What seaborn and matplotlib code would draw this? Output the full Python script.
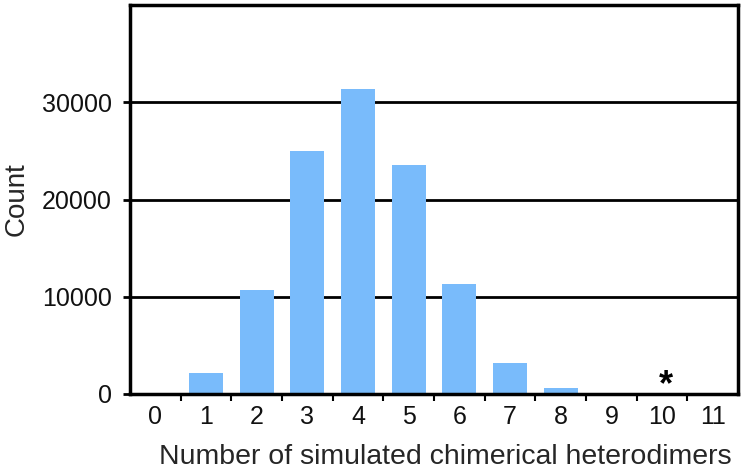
import numpy as np
import pandas as pd
import matplotlib
matplotlib.use("Agg")
import matplotlib.pyplot as plt
import seaborn as sns

categories = [str(i) for i in range(12)]
counts = [0, 2200, 10700, 25000, 31400, 23600, 11300, 3200, 600, 0, 0, 0]
star_category = 10
yticks = [0, 10000, 20000, 30000]

df = pd.DataFrame({"n": categories, "count": counts})

sns.set_theme(style="white")
plt.rcParams['font.family'] = ['Liberation Sans', 'DejaVu Sans']

fig = plt.figure(figsize=(7.47, 4.69), dpi=100)
ax = fig.add_axes([0.174, 0.160, 0.814, 0.829])

for y in yticks[1:]:
    ax.axhline(y, color='black', linewidth=2, zorder=0)

sns.barplot(data=df, x="n", y="count", order=categories, color='#79bbfb',
            saturation=1, width=0.67, linewidth=0, ax=ax, zorder=2)

# asterisk marking the observed value
ax.text(star_category + 0.08, 900, "*", ha='center', va='center', fontsize=26,
        fontweight='bold', color='black')

ax.set_ylim(0, 40000)
ax.set_xlim(-0.5, len(categories) - 0.5)
ax.set_yticks(yticks)
ax.set_yticklabels([str(v) for v in yticks], fontsize=18, color='#111111')
ax.set_xticks(range(len(categories)))
ax.set_xticklabels(categories, fontsize=18, color='#111111')
ax.set_xticks(np.arange(0.5, len(categories) - 0.5, 1), minor=True)
ax.tick_params(axis='x', which='major', length=0, pad=8)
ax.tick_params(axis='x', which='minor', length=5, width=1.5, color='black', direction='out')
ax.tick_params(axis='y', which='major', length=5, width=2, color='black', direction='out', pad=8)
ax.tick_params(axis='y', left=True)
ax.tick_params(axis='x', bottom=True, which='both')

for s in ax.spines.values():
    s.set_color('black')
    s.set_linewidth(2.5)

ax.set_xlabel("Number of simulated chimerical heterodimers", fontsize=20.5, labelpad=11)
ax.xaxis.label.set_x(0.519)
ax.set_ylabel("Count", fontsize=20, labelpad=9)

fig.savefig("out.png", dpi=100)
